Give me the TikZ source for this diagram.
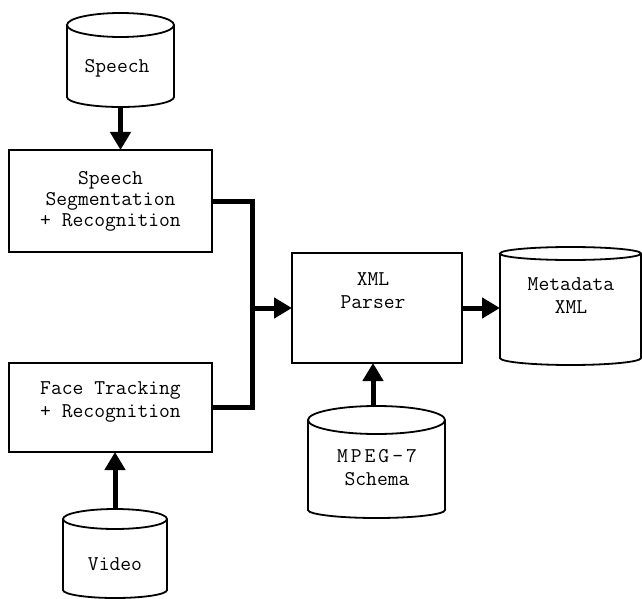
\documentclass[tikz,border=0pt]{standalone}
\usepackage{fontspec}
\usetikzlibrary{arrows.meta,calc}

% Draw a cylinder around an (invisible) rectangular node:
% #1 node name, #2 y radius of the top ellipse, #3 y radius of the bottom arc
\newcommand\drawcyl[3]{%
  \draw[cylline] let \p1=($(#1.east)-(#1.west)$) in
    ($(#1.north west)+(0,#2)$) -- ($(#1.south west)+(0,-#3)$)
    arc[start angle=180,end angle=360,x radius=0.5*\x1,y radius=#3pt]
    -- ($(#1.north east)+(0,#2)$)
    ($(#1.north)+(0,#2)$) ellipse[x radius=0.5*\x1,y radius=#2pt];
}

\begin{document}
\begin{tikzpicture}[x=1pt,y=-1pt,
  every node/.style={inner sep=0pt,outer sep=0pt},
  label/.style={align=center,font=\ttfamily\fontsize{21pt}{23pt}\selectfont},
  procbox/.style={draw,line width=1.6pt},
  cylbox/.style={draw=none},
  cylline/.style={line width=1.8pt},
  flow/.style={line width=5pt,line join=miter},
  flowarrow/.style={flow,-{Triangle[length=18pt,width=20pt]}}]

\useasboundingbox (0,0) rectangle (642,599);

% processing boxes
\node[procbox,minimum width=203pt,minimum height=102pt] (segbox) at (110.5,201) {};
\node[procbox,minimum width=203pt,minimum height=89pt] (facebox) at (110.5,407.5) {};
\node[procbox,minimum width=170pt,minimum height=110pt] (xmlbox) at (377,308) {};

% data stores
\node[cylbox,minimum width=107pt,minimum height=94pt] (speech) at (120.5,60) {};
\node[cylbox,minimum width=104pt,minimum height=89pt] (video) at (115,553.5) {};
\node[cylbox,minimum width=137pt,minimum height=112pt] (mpeg) at (376.5,462) {};
\node[cylbox,minimum width=141pt,minimum height=118pt] (meta) at (570.5,306) {};
\drawcyl{speech}{12}{10}
\drawcyl{video}{10}{8}
\drawcyl{mpeg}{14}{8}
\drawcyl{meta}{6.5}{7}

% labels
\node[label] (speechtext) at (117,68) {Speech};
\node[label,font=\ttfamily\fontsize{21pt}{21pt}\selectfont] (segtext) at (110.5,201)
  {Speech\\Segmentation\\+ Recognition};
\node[label] (facetext) at (110.5,401.5) {Face Tracking\\+ Recognition};
\node[label] (videotext) at (115,564) {Video};
\node[label] (xmltext) at (373,291) {XML\\Parser};
\node[label] (mpegtext) at (377,468)
  {M\kern3pt P\kern3pt E\kern3pt G\kern3pt -\kern3pt 7\\Schema};
\node[label] (metatext) at (571,295.5) {Metadata\\XML};

% connectors
\coordinate (join) at (252,308);
\draw[flowarrow] (speech.south) -- (speech.south |- segbox.north);
\draw[flowarrow] (video.north) -- (video.north |- facebox.south);
\draw[flow] (segbox.east) -| (join) |- (facebox.east);
\draw[flowarrow] (join) -- (xmlbox.west);
\draw[flowarrow] ([xshift=-3.5pt]mpeg.north) -- ([xshift=-3.5pt]mpeg.north |- xmlbox.south);
\draw[flowarrow] (xmlbox.east) -- (meta.west |- xmlbox.east);
\end{tikzpicture}
\end{document}
